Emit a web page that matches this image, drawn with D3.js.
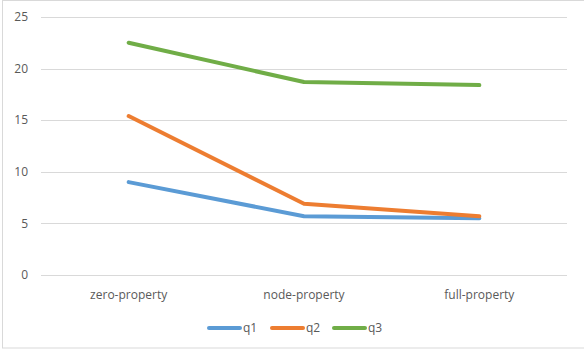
<!DOCTYPE html>
<html>
<head>
<meta charset="utf-8">
<script src="https://cdn.jsdelivr.net/npm/d3@7"></script>
<style>
  body { margin: 0; background: #fff; }
  text { font-family: "Open Sans", "Noto Sans", sans-serif; fill: #595959; }
</style>
</head>
<body>
<svg id="chart" width="584" height="349"></svg>
<script>
// categorias y series
const categories = ["zero-property", "node-property", "full-property"];
const q1 = [9.0, 5.7, 5.5];
const q2 = [15.4, 6.9, 5.7];
const q3 = [22.5, 18.7, 18.4];
const yTicks = [0, 5, 10, 15, 20, 25];

const series = [
  { name: "q1", values: q1, color: "#5B9BD5" },
  { name: "q2", values: q2, color: "#ED7D31" },
  { name: "q3", values: q3, color: "#70AD47" }
];

const svg = d3.select("#chart");

// marco del grafico
svg.append("rect")
  .attr("x", 2.5).attr("y", 0.5)
  .attr("width", 590).attr("height", 347.5)
  .attr("fill", "none")
  .attr("stroke", "#d9d9d9");

const plotLeft = 41, plotRight = 567, plotTop = 17, plotBottom = 275;

const x = d3.scaleBand()
  .domain(categories)
  .range([plotLeft, plotRight]);

const y = d3.scaleLinear()
  .domain([0, 25])
  .range([plotBottom, plotTop]);

// lineas de cuadricula
svg.append("g")
  .selectAll("line")
  .data(yTicks)
  .enter().append("line")
  .attr("x1", plotLeft).attr("x2", plotRight)
  .attr("y1", d => Math.round(y(d)) + 0.5)
  .attr("y2", d => Math.round(y(d)) + 0.5)
  .attr("stroke", "#d9d9d9")
  .attr("stroke-width", 1);

// etiquetas eje y
svg.append("g")
  .selectAll("text")
  .data(yTicks)
  .enter().append("text")
  .attr("x", 28)
  .attr("y", d => y(d))
  .attr("dy", "0.35em")
  .attr("text-anchor", "end")
  .style("font-size", "12px")
  .text(d => d);

// etiquetas eje x
svg.append("g")
  .selectAll("text")
  .data(categories)
  .enter().append("text")
  .attr("x", d => x(d) + x.bandwidth() / 2)
  .attr("y", 295)
  .attr("dy", "0.35em")
  .attr("text-anchor", "middle")
  .style("font-size", "12px")
  .text(d => d);

// lineas de datos
const line = d3.line()
  .x((d, i) => x(categories[i]) + x.bandwidth() / 2)
  .y(d => y(d));

svg.append("g")
  .selectAll("path")
  .data(series)
  .enter().append("path")
  .attr("d", d => line(d.values))
  .attr("fill", "none")
  .attr("stroke", d => d.color)
  .attr("stroke-width", 4)
  .attr("stroke-linecap", "round")
  .attr("stroke-linejoin", "round");

// leyenda
const legendX = [207, 270, 332];
const legend = svg.append("g")
  .selectAll("g")
  .data(series)
  .enter().append("g")
  .attr("transform", (d, i) => `translate(${legendX[i]},328)`);

legend.append("line")
  .attr("x1", 2).attr("x2", 33)
  .attr("stroke", d => d.color)
  .attr("stroke-width", 4)
  .attr("stroke-linecap", "round");

legend.append("text")
  .attr("x", 36)
  .attr("dy", "0.35em")
  .style("font-size", "12px")
  .text(d => d.name);
</script>
</body>
</html>
